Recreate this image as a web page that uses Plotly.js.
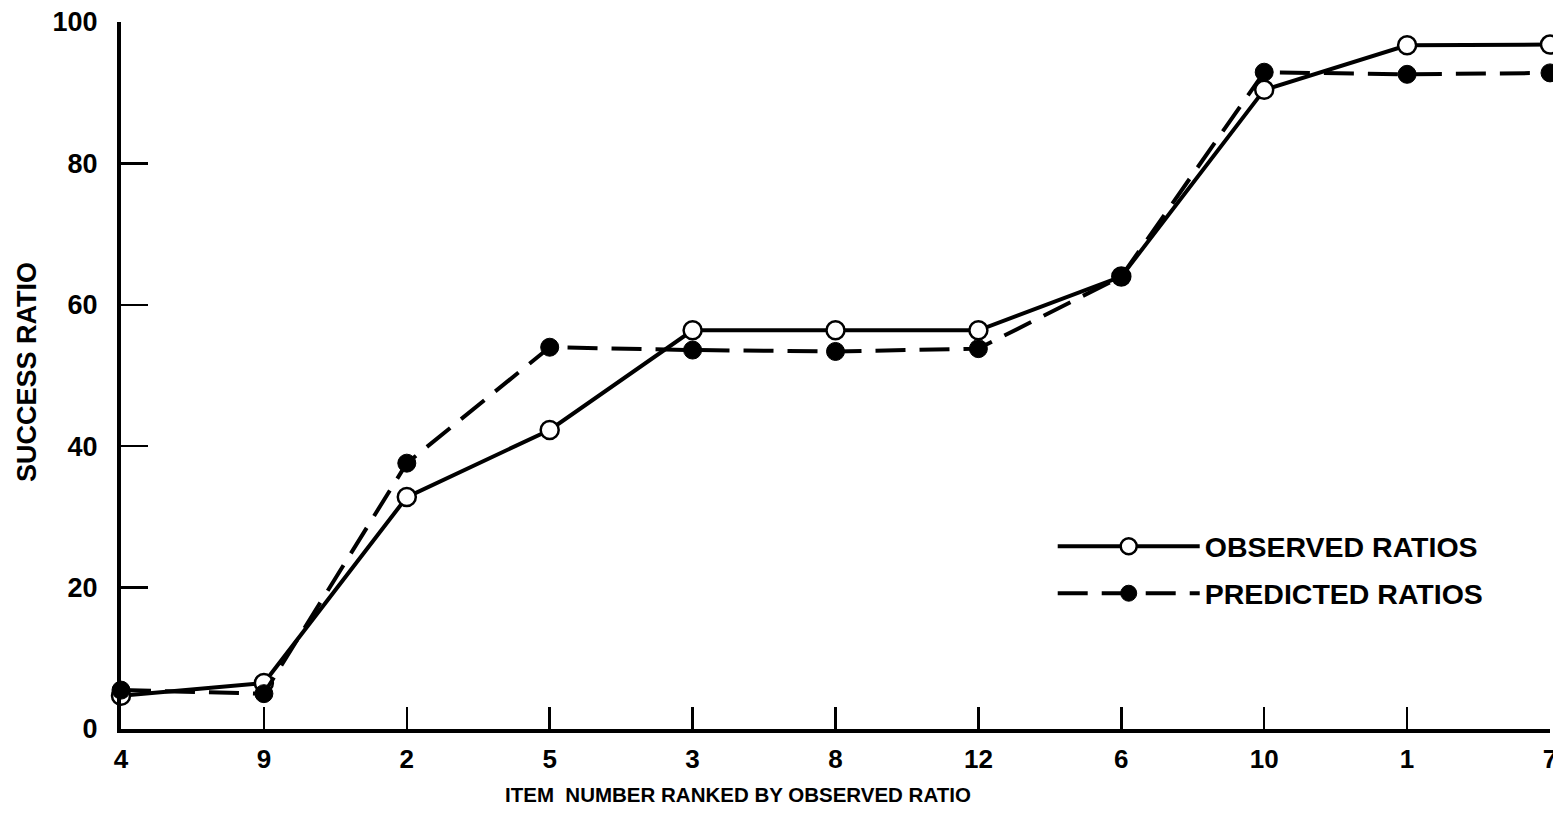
<!DOCTYPE html>
<html>
<head>
<meta charset="utf-8">
<script src="https://cdn.plot.ly/plotly-3.0.1.min.js"></script>
<style>html,body{margin:0;padding:0;background:#fff;}#chart{width:1553px;height:813px;}</style>
</head>
<body>
<div id="chart"></div>
<script>
// Items ranked by observed ratio
var items = ["4", "9", "2", "5", "3", "8", "12", "6", "10", "1", "7"];
var observedRatios = [4.7, 6.5, 32.8, 42.3, 56.4, 56.4, 56.4, 64.0, 90.4, 96.7, 96.8];
var predictedRatios = [5.5, 5.0, 37.6, 54.0, 53.6, 53.4, 53.8, 64.0, 92.9, 92.6, 92.8];
var yTicks = [0, 20, 40, 60, 80, 100];
var yTickText = ["0", "20", "40", "60", "80", "100"];
var xTitle = "ITEM&nbsp; NUMBER RANKED BY OBSERVED RATIO";
var yTitle = "SUCCESS RATIO";

var FONT = "Liberation Sans, Arial, sans-serif";

var traces = [
  {
    x: items, y: observedRatios, name: "OBSERVED RATIOS", legendgroup: "a",
    type: "scatter", mode: "lines+markers", cliponaxis: false,
    line: {color: "#000", width: 4},
    marker: {symbol: "circle", size: 18, color: "#fff", line: {color: "#000", width: 2.5}}
  },
  {
    x: items, y: predictedRatios, name: "PREDICTED RATIOS", legendgroup: "b",
    type: "scatter", mode: "lines+markers", cliponaxis: false,
    line: {color: "#000", width: 4, dash: "30px,14px"},
    marker: {symbol: "circle", size: 18, color: "#000", line: {color: "#000", width: 1}}
  }
];

var layout = {
  width: 1553, height: 813,
  paper_bgcolor: "#fff", plot_bgcolor: "#fff",
  margin: {l: 121, r: 3, t: 22, b: 84},
  showlegend: true,
  legend: {
    x: 0.652, y: 0.294, xanchor: "left", yanchor: "top",
    bgcolor: "rgba(0,0,0,0)", itemwidth: 142,
    traceorder: "grouped", tracegroupgap: 7,
    font: {family: FONT, size: 28.5, color: "#000", weight: 700}
  },
  xaxis: {
    type: "category", range: [0, 10],
    showgrid: false, zeroline: false,
    showline: true, linecolor: "#000", linewidth: 4,
    ticks: "inside", ticklen: 22, tickwidth: 2.5, tickcolor: "#000",
    ticklabelstandoff: 4,
    tickfont: {family: FONT, size: 26, color: "#000", weight: 700}
  },
  yaxis: {
    range: [0, 100], tickvals: yTicks, ticktext: yTickText,
    showgrid: false, zeroline: false,
    showline: true, linecolor: "#000", linewidth: 4,
    ticks: "inside", ticklen: 27, tickwidth: 2.5, tickcolor: "#000",
    ticklabelstandoff: 14,
    tickfont: {family: FONT, size: 27, color: "#000", weight: 700}
  },
  annotations: [
    {
      text: xTitle, xref: "paper", yref: "paper", x: 0.432, y: -0.092,
      xanchor: "center", yanchor: "middle", showarrow: false,
      font: {family: FONT, size: 20.5, color: "#000", weight: 700}
    },
    {
      text: yTitle, xref: "paper", yref: "paper", x: -0.0658, y: 0.505,
      xanchor: "center", yanchor: "middle", textangle: -90, showarrow: false,
      font: {family: FONT, size: 27, color: "#000", weight: 700}
    }
  ]
};

Plotly.newPlot("chart", traces, layout, {displayModeBar: false, staticPlot: true});
</script>
</body>
</html>
